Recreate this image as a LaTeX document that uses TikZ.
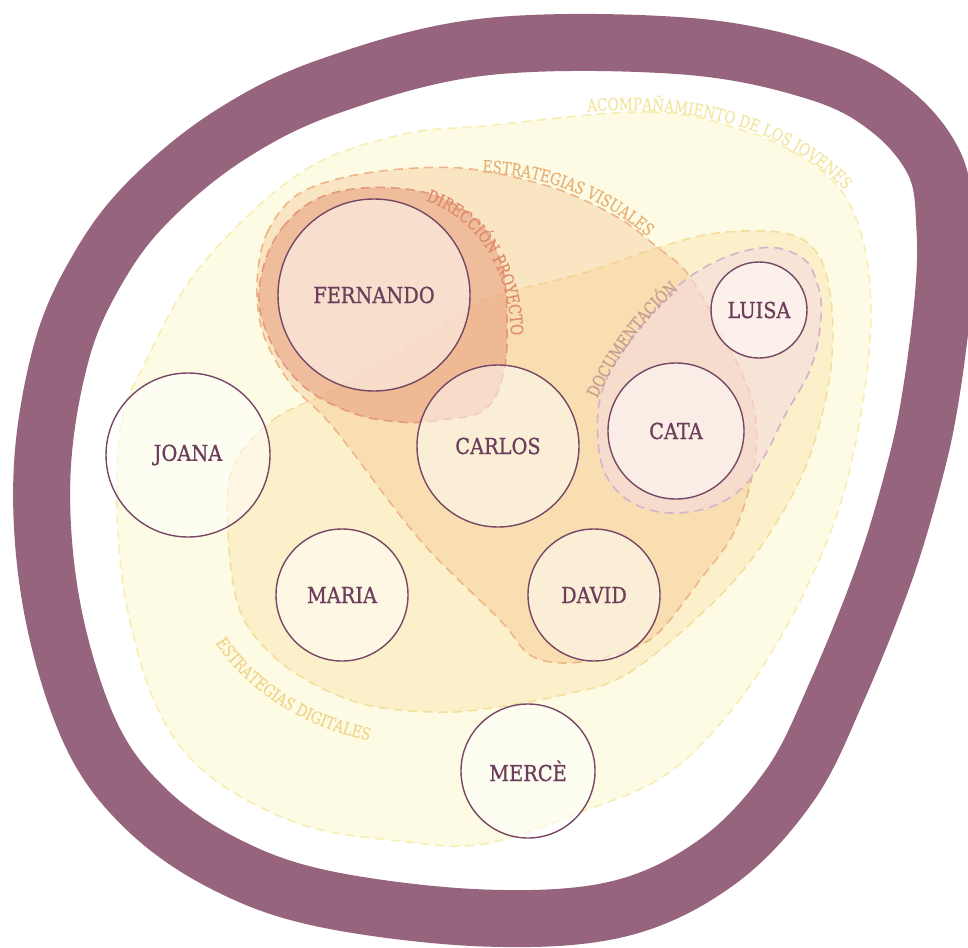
\documentclass[tikz,border=0pt]{standalone}
\usepackage{fontspec}
\setmainfont{DejaVu Serif}
\newfontfamily\namefont[FakeStretch=0.88,FakeBold=0.8]{DejaVu Serif}
\newfontfamily\labelfont[FakeStretch=0.8,FakeBold=0.3]{DejaVu Serif}
\usetikzlibrary{decorations.text}
\definecolor{ringc}{RGB}{150,100,125}
\definecolor{acompf}{RGB}{254,251,229}
\definecolor{acompd}{RGB}{246,238,178}
\definecolor{digif}{RGB}{248,222,150}
\definecolor{digid}{RGB}{244,222,155}
\definecolor{visf}{RGB}{245,190,130}
\definecolor{visd}{RGB}{238,182,135}
\definecolor{dpf}{RGB}{232,150,120}
\definecolor{dpd}{RGB}{228,152,128}
\definecolor{docf}{RGB}{246,220,224}
\definecolor{docd}{RGB}{214,178,206}
\definecolor{namec}{RGB}{108,62,92}
\definecolor{circc}{RGB}{118,72,102}
\definecolor{lacomp}{RGB}{243,231,160}
\definecolor{lvis}{RGB}{230,178,118}
\definecolor{ldp}{RGB}{222,140,105}
\definecolor{ldoc}{RGB}{200,158,148}
\definecolor{ldig}{RGB}{240,214,140}
\tikzset{
  region/.style={line width=1.6pt, dash pattern=on 9pt off 6pt},
  person/.style={circle, draw=circc, line width=1.4pt, fill=white, fill opacity=0.5, text opacity=1, text=namec, inner sep=0pt, font=\namefont\fontsize{22}{23}\selectfont},
  lbl/.style={decorate, decoration={text along path, text align=center, text color=#1}},
}
\begin{document}
\begin{tikzpicture}[x=1pt,y=-1pt]
\useasboundingbox (0,0) rectangle (968,947);
\fill[white] (0,0) rectangle (968,947);
% outer ring
\draw[ringc, line width=57pt] plot[smooth cycle, tension=0.6] coordinates {
 (484,47) (684,46) (817,72) (890,110) (935,165) (945,230) (943,300) (930,400) (914,474) (884,574) (837,691) (790,785) (717,862) (618,909) (484,918) (325,899) (225,864) (145,808) (90,732) (52,607) (42,474) (62,350) (100,265) (150,200) (230,135) (330,86)};
% acompanamiento
\path[region, fill=acompf, draw=acompd] plot[smooth cycle, tension=0.6] coordinates {
 (484,126) (651,112) (751,133) (817,167) (851,207) (868,267) (870,340) (858,430) (835,520) (790,620) (734,707) (667,774) (584,811) (484,844) (400,841) (300,824) (207,774) (157,707) (127,607) (117,507) (122,420) (143,367) (200,267) (300,173) (400,135)};
% digitales
\path[region, fill=digif, fill opacity=0.35, draw=digid] plot[smooth cycle, tension=0.6] coordinates {
 (233,467) (273,420) (333,390) (420,340) (484,300) (584,273) (657,248) (717,233) (784,233) (817,253) (831,300) (831,367) (817,433) (795,490) (751,560) (700,615) (627,674) (567,694) (484,709) (433,712) (367,705) (310,682) (265,648) (238,605) (228,531)};
% visuales
\path[region, fill=visf, fill opacity=0.35, draw=visd] plot[smooth cycle, tension=0.55] coordinates {
 (257,283) (267,233) (300,193) (367,173) (460,168) (551,187) (617,217) (657,247) (687,273) (720,330) (752,400) (755,460) (735,530) (700,580) (657,634) (617,654) (567,663) (530,655) (500,620) (420,540) (333,427) (290,383) (263,333)};
% direccion proyecto
\path[region, fill=dpf, fill opacity=0.5, draw=dpd] plot[smooth cycle, tension=0.65] coordinates {
 (260,283) (283,227) (333,193) (413,190) (470,215) (500,260) (507,320) (503,375) (484,410) (440,420) (400,422) (350,412) (300,383) (267,333)};
% documentacion
\path[region, fill=docf, fill opacity=0.6, draw=docd] plot[smooth cycle, tension=0.65] coordinates {
 (598,440) (606,380) (650,315) (700,270) (760,248) (801,257) (817,283) (821,317) (811,367) (784,417) (765,455) (740,490) (700,510) (650,510) (612,485)};
% labels
\path[lbl=lacomp, decoration={text={|\labelfont\fontsize{17}{17}\selectfont|ACOMPAÑAMIENTO DE LOS JOVENES}}]
  (560,115) .. controls (690,96) and (808,132) .. (862,212);
\path[lbl=lvis, decoration={text={|\labelfont\fontsize{17}{17}\selectfont|ESTRATEGIAS VISUALES}}]
  (460,172) .. controls (545,170) and (615,202) .. (664,252);
\path[lbl=ldp, decoration={text={|\labelfont\fontsize{17}{17}\selectfont|DIRECCIÓN PROYECTO}}]
  (410,196) .. controls (480,212) and (514,275) .. (511,352);
\path[lbl=ldoc, decoration={text={|\labelfont\fontsize{17}{17}\selectfont|DOCUMENTACIÓN}}]
  (590,414) .. controls (616,354) and (650,310) .. (692,279);
\path[lbl=ldig, decoration={text={|\labelfont\fontsize{17}{17}\selectfont|ESTRATEGIAS DIGITALES}}]
  (198,612) .. controls (234,690) and (310,736) .. (404,746);
% people
\node[person, minimum size=192pt] (fernando) at (374,295) {FERNANDO};
\node[person, minimum size=162pt] (carlos) at (498,446) {CARLOS};
\node[person, minimum size=164pt] (joana) at (188,455) {JOANA};
\node[person, minimum size=132pt] (maria) at (342,595) {MARIA};
\node[person, minimum size=132pt] (david) at (594,595) {DAVID};
\node[person, minimum size=134pt] (merce) at (528,771) {MERCÈ};
\node[person, minimum size=136pt] (cata) at (676,431) {CATA};
\node[person, minimum size=96pt] (luisa) at (759,310) {LUISA};
\end{tikzpicture}
\end{document}
